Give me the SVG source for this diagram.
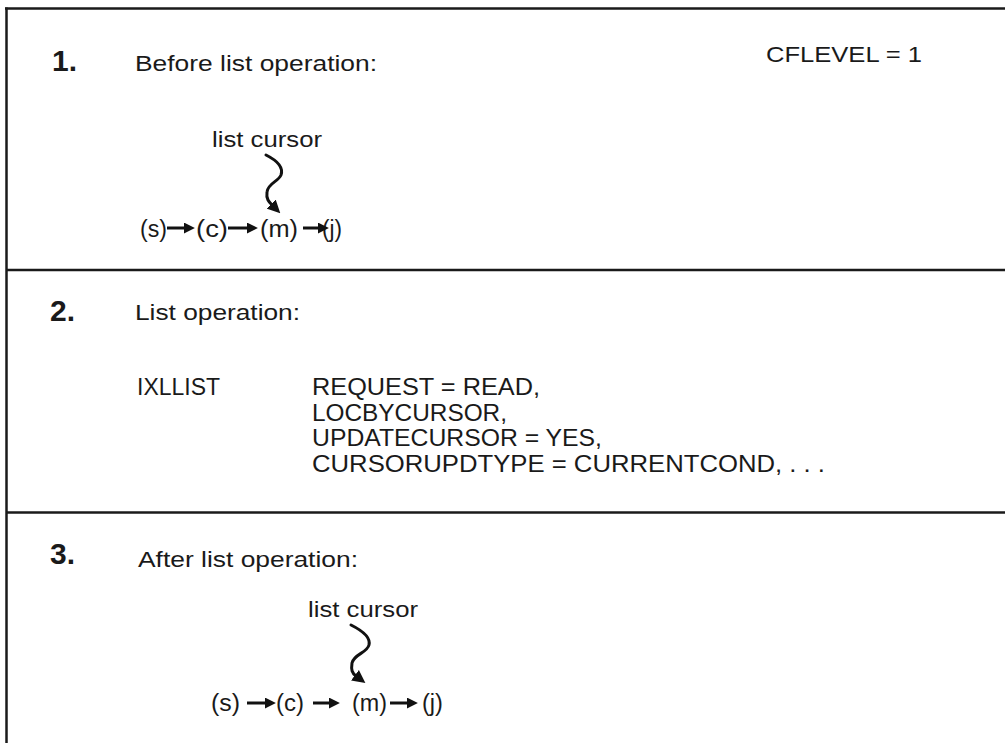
<svg xmlns="http://www.w3.org/2000/svg" width="1005" height="743" viewBox="0 0 1005 743">
<style>
  text { font-family: "Liberation Sans", Arial, sans-serif; fill: #1a1a1a; }
  .num { font-size: 30px; font-weight: bold; }
  .lbl { font-size: 22px; }
  .code { font-size: 24px; }
  .ch { font-size: 23px; }
  .frame { stroke: #1a1a1a; stroke-width: 2.5; fill: none; }
  .arr { stroke: #111; stroke-width: 3; fill: none; }
  .sq { stroke: #111; stroke-width: 3; fill: none; stroke-linecap: round; }
</style>
<defs>
  <marker id="ah" viewBox="0 0 10 10" refX="1" refY="5" markerWidth="11" markerHeight="11" markerUnits="userSpaceOnUse" orient="auto">
    <path d="M0,0 L10,5 L0,10 z" fill="#111"/>
  </marker>
  <marker id="ah2" viewBox="0 0 10 10" refX="1" refY="5" markerWidth="13" markerHeight="13" markerUnits="userSpaceOnUse" orient="auto">
    <path d="M0,0 L10,5 L0,10 z" fill="#111"/>
  </marker>
</defs>
<rect width="1005" height="743" fill="#fff"/>
<g id="frame">
  <line class="frame" x1="5" y1="8.5" x2="1005" y2="8.5"/>
  <line class="frame" x1="6.5" y1="7.5" x2="6.5" y2="743"/>
  <line class="frame" x1="6" y1="270" x2="1005" y2="270"/>
  <line class="frame" x1="6" y1="512.5" x2="1005" y2="512.5"/>
</g>
<g id="panel1">
  <text class="num" x="52" y="71">1.</text>
  <text class="lbl" x="135" y="71" textLength="242" lengthAdjust="spacingAndGlyphs">Before list operation:</text>
  <text class="lbl" x="766" y="62" textLength="156" lengthAdjust="spacingAndGlyphs">CFLEVEL = 1</text>
  <text class="lbl" x="212" y="147" textLength="110" lengthAdjust="spacingAndGlyphs">list cursor</text>
</g>
<g id="p1-s"><text class="ch" x="140" y="237" textLength="27" lengthAdjust="spacingAndGlyphs">(s)</text></g>
<g id="p1-c"><text class="ch" x="196" y="237" textLength="32" lengthAdjust="spacingAndGlyphs">(c)</text></g>
<g id="p1-m"><text class="ch" x="260" y="237" textLength="38" lengthAdjust="spacingAndGlyphs">(m)</text></g>
<g id="p1-j"><text class="ch" x="322" y="237" textLength="20" lengthAdjust="spacingAndGlyphs">(j)</text></g>
<g id="panel2">
  <text class="num" x="50" y="321">2.</text>
  <text class="lbl" x="135" y="320" textLength="165" lengthAdjust="spacingAndGlyphs">List operation:</text>
  <text class="code" x="137" y="395" textLength="83" lengthAdjust="spacingAndGlyphs">IXLLIST</text>
  <text class="code" x="312" y="395" textLength="228" lengthAdjust="spacingAndGlyphs">REQUEST = READ,</text>
  <text class="code" x="312" y="421" textLength="195" lengthAdjust="spacingAndGlyphs">LOCBYCURSOR,</text>
  <text class="code" x="312" y="446" textLength="290" lengthAdjust="spacingAndGlyphs">UPDATECURSOR = YES,</text>
  <text class="code" x="312" y="472" textLength="513" lengthAdjust="spacingAndGlyphs">CURSORUPDTYPE = CURRENTCOND, . . .</text>
</g>
<g id="panel3">
  <text class="num" x="50" y="564">3.</text>
  <text class="lbl" x="138" y="567" textLength="220" lengthAdjust="spacingAndGlyphs">After list operation:</text>
  <text class="lbl" x="308" y="617" textLength="110" lengthAdjust="spacingAndGlyphs">list cursor</text>
</g>
<g id="p3-s"><text class="ch" x="211" y="711" textLength="29" lengthAdjust="spacingAndGlyphs">(s)</text></g>
<g id="p3-c"><text class="ch" x="276" y="711" textLength="28" lengthAdjust="spacingAndGlyphs">(c)</text></g>
<g id="p3-m"><text class="ch" x="352" y="711" textLength="35" lengthAdjust="spacingAndGlyphs">(m)</text></g>
<g id="p3-j"><text class="ch" x="422" y="711" textLength="21" lengthAdjust="spacingAndGlyphs">(j)</text></g>
<g id="connectors">
  <path class="sq" d="M266,155 C276,160 284,166 281,175 C278,182 268,183 267,192 C266,199 269,202 272,205" marker-end="url(#ah2)"/>
  <line class="arr" x1="167" y1="228" x2="185" y2="228" marker-end="url(#ah)"/>
  <line class="arr" x1="228" y1="228" x2="248" y2="228" marker-end="url(#ah)"/>
  <line class="arr" x1="303" y1="228" x2="319" y2="228" marker-end="url(#ah)"/>
  <path class="sq" d="M351,625 C361,630 371,637 369,645 C367,653 354,654 352,663 C351,670 352,673 356,676" marker-end="url(#ah2)"/>
  <line class="arr" x1="247" y1="703" x2="266" y2="703" marker-end="url(#ah)"/>
  <line class="arr" x1="313" y1="703" x2="330" y2="703" marker-end="url(#ah)"/>
  <line class="arr" x1="390" y1="703" x2="408" y2="703" marker-end="url(#ah)"/>
</g>
</svg>
